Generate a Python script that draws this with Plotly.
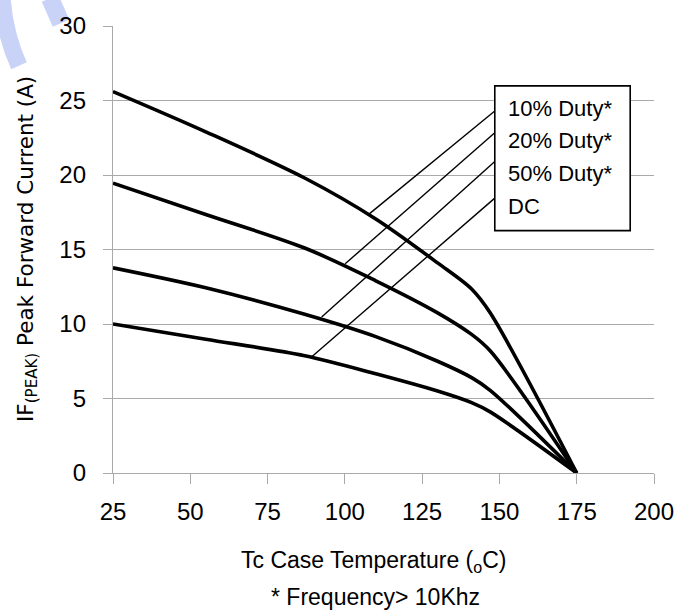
import plotly.graph_objects as go

# ---- data ----
temps = [25, 55, 87, 110, 130, 141, 147, 175]
duty10 = [25.6, 22.9, 19.8, 17.05, 14.1, 12.35, 10.75, 0]
duty20 = [19.45, 17.35, 15.1, 12.9, 10.75, 9.3, 8.2, 0]
duty50 = [13.77, 12.43, 10.65, 9.15, 7.5, 6.4, 5.55, 0]
dc = [10.0, 8.98, 7.87, 6.66, 5.5, 4.72, 4.1, 0]

series_names = ["10% Duty*", "20% Duty*", "50% Duty*", "DC"]
series_vals = [duty10, duty20, duty50, dc]

# leader lines: (curve point) -> (legend box edge)
leader_x = [[107.6, 148.5], [100.1, 148.5], [92.5, 148.5], [89.3, 148.5]]
leader_y = [[17.34, 24.29], [14.04, 22.84], [10.47, 20.9], [7.8, 18.45]]

# legend box and label positions
box_x = [148.5, 192.3]
box_y = [16.27, 25.98]
label_x = 152.2
label_y = [24.47, 22.29, 20.12, 17.9]

x_ticks = [25, 50, 75, 100, 125, 150, 175, 200]
y_ticks = [0, 5, 10, 15, 20, 25, 30]

GRID = "#a9a9a9"
FONT = "Liberation Sans"

fig = go.Figure()

for name, vals in zip(series_names, series_vals):
    fig.add_trace(go.Scatter(
        x=temps, y=vals, mode="lines", name=name,
        line=dict(color="black", width=3.6, shape="spline", smoothing=0.9),
        showlegend=False, hoverinfo="skip"))

for lx, ly in zip(leader_x, leader_y):
    fig.add_trace(go.Scatter(
        x=lx, y=ly, mode="lines",
        line=dict(color="black", width=1.4),
        showlegend=False, hoverinfo="skip"))

# legend box
fig.add_shape(type="rect", xref="x", yref="y",
              x0=box_x[0], x1=box_x[1], y0=box_y[0], y1=box_y[1],
              line=dict(color="black", width=1.6), fillcolor="white",
              layer="above")

for name, ly in zip(series_names, label_y):
    fig.add_annotation(x=label_x, y=ly, xref="x", yref="y", text=name,
                       showarrow=False, xanchor="left", yanchor="middle",
                       font=dict(family=FONT, size=22, color="black"))

# axis titles as annotations
fig.add_annotation(x=-0.159, y=0.501, xref="paper", yref="paper",
                   text="IF<sub>(PEAK)</sub> Peak Forward Current (A)",
                   textangle=-90, showarrow=False, xanchor="center", yanchor="middle",
                   font=dict(family="DejaVu Sans", size=21.5, color="black"))
fig.add_annotation(x=0.4824, y=-0.198, xref="paper", yref="paper",
                   text="Tc Case Temperature (<sub>o</sub>C)",
                   showarrow=False, xanchor="center", yanchor="middle",
                   font=dict(family=FONT, size=23, color="black"))
fig.add_annotation(x=0.4843, y=-0.278, xref="paper", yref="paper",
                   text="* Frequency> 10Khz",
                   showarrow=False, xanchor="center", yanchor="middle",
                   font=dict(family=FONT, size=23, color="black"))

# watermark strokes (top-left corner)
def px2paper(px, py):
    return ((px - 113) / 541, (473 - py) / 449)

def path(points):
    p = [px2paper(*pt) for pt in points]
    return "M {} {} C {} {}, {} {}, {} {}".format(
        p[0][0], p[0][1], p[1][0], p[1][1], p[2][0], p[2][1], p[3][0], p[3][1])

WM = "rgb(201,210,247)"
fig.add_shape(type="path", xref="paper", yref="paper",
              path=path([(2, -4), (4, 20), (9, 42), (19, 64)]),
              line=dict(color=WM, width=17), layer="below")
fig.add_shape(type="path", xref="paper", yref="paper",
              path=path([(50, -4), (54, 5), (57, 12), (61, 21)]),
              line=dict(color=WM, width=18), layer="below")

fig.update_xaxes(range=[25, 200], tickvals=x_ticks, showgrid=False, zeroline=False,
                 showline=True, linecolor=GRID, linewidth=1.3,
                 ticks="outside", ticklen=10, tickcolor=GRID, tickwidth=1.3,
                 tickfont=dict(family=FONT, size=24, color="black"),
                 ticklabelstandoff=7)
fig.update_yaxes(range=[0, 30], tickvals=y_ticks, showgrid=True, gridcolor=GRID,
                 gridwidth=1.3, zeroline=False,
                 showline=True, linecolor=GRID, linewidth=1.3,
                 ticks="outside", ticklen=9, tickcolor=GRID, tickwidth=1.3,
                 tickfont=dict(family=FONT, size=24, color="black"),
                 ticklabelstandoff=12)

fig.update_layout(width=694, height=616,
                  margin=dict(l=113, r=40, t=24, b=143),
                  plot_bgcolor="white", paper_bgcolor="white",
                  showlegend=False)

fig.write_html("out.html")
